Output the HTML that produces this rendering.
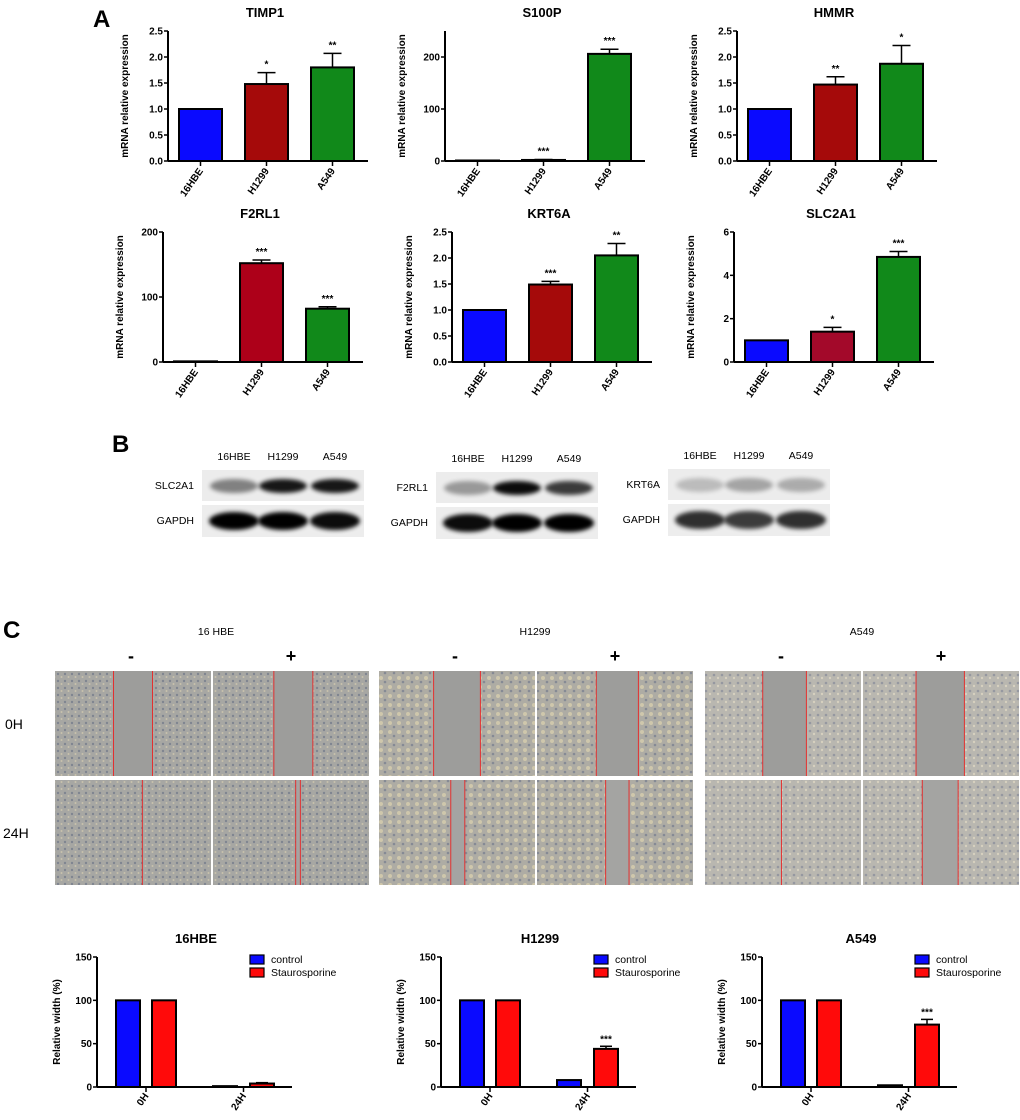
<!DOCTYPE html>
<html><head><meta charset="utf-8"><style>
body{margin:0;background:#fff;}
svg{display:block;font-family:"Liberation Sans",Arial,sans-serif;}
</style></head><body>
<svg id="fig" width="1020" height="1120" viewBox="0 0 1020 1120">
<defs>
<pattern id="cellsA" width="7" height="7" patternUnits="userSpaceOnUse"><rect width="7" height="7" fill="#a7a7a3"/><circle cx="2" cy="2" r="1.2" fill="#7f8590"/><circle cx="5.5" cy="5" r="1" fill="#c8c2ad"/></pattern>
<pattern id="cellsB" width="9" height="9" patternUnits="userSpaceOnUse"><rect width="9" height="9" fill="#aeaca4"/><circle cx="3" cy="3" r="2" fill="#cfc7ac"/><circle cx="7" cy="7" r="1.3" fill="#858a94"/></pattern>
<pattern id="cellsC" width="8" height="8" patternUnits="userSpaceOnUse"><rect width="8" height="8" fill="#b9b7b0"/><circle cx="2" cy="3" r="1.3" fill="#9598a0"/><circle cx="6" cy="6" r="1.2" fill="#d6d0bf"/></pattern>
<filter id="blur" x="-20%" y="-50%" width="140%" height="200%"><feGaussianBlur stdDeviation="2.2"/></filter>
</defs>
<g id="layer"></g>
</svg>
<script>
// ---- Panel A data ----
const catsA = ["16HBE","H1299","A549"];
const titlesA = ["TIMP1","S100P","HMMR","F2RL1","KRT6A","SLC2A1"];
const valsTIMP1 = [1, 1.48, 1.80];
const errTIMP1 = [0, 0.22, 0.27];
const starsTIMP1 = ["", "*", "**"];
const valsS100P = [1, 2, 206];
const errS100P = [0, 1, 9];
const starsS100P = ["", "***", "***"];
const valsHMMR = [1, 1.47, 1.87];
const errHMMR = [0, 0.15, 0.35];
const starsHMMR = ["", "**", "*"];
const valsF2RL1 = [1, 152, 82];
const errF2RL1 = [0, 5, 3];
const starsF2RL1 = ["", "***", "***"];
const valsKRT6A = [1, 1.49, 2.05];
const errKRT6A = [0, 0.06, 0.23];
const starsKRT6A = ["", "***", "**"];
const valsSLC2A1 = [1, 1.4, 4.85];
const errSLC2A1 = [0, 0.2, 0.25];
const starsSLC2A1 = ["", "*", "***"];
const ticksTIMP1 = ["0.0","0.5","1.0","1.5","2.0","2.5"];
const ticks200 = ["0","100","200"];
const ticksSLC = ["0","2","4","6"];
// ---- Panel C data ----
const catsC = ["0H","24H"];
const seriesC = ["control","Staurosporine"];
const titlesC = ["16HBE","H1299","A549"];
const ctrl16HBE = [100, 1];
const stau16HBE = [100, 4];
const stauErr16HBE = [0, 1];
const ctrlH1299 = [100, 8];
const stauH1299 = [100, 44];
const stauErrH1299 = [0, 3];
const ctrlA549 = [100, 2];
const stauA549 = [100, 72];
const stauErrA549 = [0, 6];
const stars24H = ["", "***", "***"];
const ticksC = ["0","50","100","150"];

const NS = "http://www.w3.org/2000/svg";
const L = document.getElementById("layer");
function mk(tag, attrs, parent){const e=document.createElementNS(NS,tag);for(const k in attrs)e.setAttribute(k,attrs[k]);(parent||L).appendChild(e);return e;}
function txt(x,y,s,size,attrs,parent){const e=mk("text",Object.assign({x:x,y:y,"font-size":size},attrs||{}),parent);e.textContent=s;return e;}

let e;
e=txt(93,27,"A",24,{"font-weight":"bold"});  
e=txt(112,452,"B",24,{"font-weight":"bold"});  
e=txt(3,638,"C",24,{"font-weight":"bold"});  

const colorsA = ["#0a0aff","#a50a0a","#11891a"];
function barChartA(name, axisX, y0, yTop, maxV, ticks, vals, errs, stars, title, cols){
  const g = mk("g",{});
  
  
  const yS = v => y0 - (v/maxV)*(y0-yTop);
  const xS = i => axisX + 11 + i*66;
  const bw = 43;
  const t=txt(axisX+97,yTop-14,title,13,{"font-weight":"bold","text-anchor":"middle"},g);
  
  
  const yt = txt(0,0,"mRNA relative expression",10,{"font-weight":"bold","text-anchor":"middle",transform:`translate(${axisX-40},${(y0+yTop)/2}) rotate(-90)`},g);
  
  
  ticks.forEach(s=>{
    const v=parseFloat(s), y=yS(v);
    mk("line",{x1:axisX-4,x2:axisX,y1:y,y2:y,stroke:"#000","stroke-width":1.5},g);
    const tl=txt(axisX-5,y+3.5,s,10,{"font-weight":"bold","text-anchor":"end"},g);
    
    
  });
  vals.forEach((v,i)=>{
    const x=xS(i), y=yS(v);
    if(errs[i]>0){
      const ye=yS(v+errs[i]);
      mk("line",{x1:x+bw/2,x2:x+bw/2,y1:y,y2:ye,stroke:"#000","stroke-width":1.5},g);
      mk("line",{x1:x+bw/2-9,x2:x+bw/2+9,y1:ye,y2:ye,stroke:"#000","stroke-width":1.5},g);
    }
    const r=mk("rect",{x:x,y:y,width:bw,height:Math.max(y0-y,0.5),fill:cols[i],stroke:"#000","stroke-width":2},g);
    
    
    if(stars[i]){const st=txt(x+bw/2,yS(v+errs[i])-5,stars[i],10,{"font-weight":"bold","text-anchor":"middle"},g);
      
      }
    mk("line",{x1:x+bw/2,x2:x+bw/2,y1:y0,y2:y0+5,stroke:"#000","stroke-width":1.5},g);
    const xl=txt(0,0,catsA[i],10,{"font-weight":"bold","text-anchor":"end",transform:`translate(${x+bw/2+3},${y0+10}) rotate(-55)`},g);
    
    
  });
  mk("line",{x1:axisX,x2:axisX,y1:yTop,y2:y0,stroke:"#000","stroke-width":2},g);
  mk("line",{x1:axisX,x2:axisX+200,y1:y0,y2:y0,stroke:"#000","stroke-width":2},g);
}
barChartA("timp1",168,161,31,2.5,ticksTIMP1,valsTIMP1,errTIMP1,starsTIMP1,titlesA[0],colorsA);
barChartA("s100p",445,161,31,250,ticks200,valsS100P,errS100P,starsS100P,titlesA[1],colorsA);
barChartA("hmmr",737,161,31,2.5,ticksTIMP1,valsHMMR,errHMMR,starsHMMR,titlesA[2],colorsA);
barChartA("f2rl1",163,362,232,200,ticks200,valsF2RL1,errF2RL1,starsF2RL1,titlesA[3],["#0a0aff","#ad0019","#11891a"]);
barChartA("krt6a",452,362,232,2.5,ticksTIMP1,valsKRT6A,errKRT6A,starsKRT6A,titlesA[4],colorsA);
barChartA("slc2a1",734,362,232,6,ticksSLC,valsSLC2A1,errSLC2A1,starsSLC2A1,titlesA[5],["#0a0aff","#a3092a","#11891a"]);

// ---- Panel B blots ----
const blotNames = ["SLC2A1","F2RL1","KRT6A"];
const blotX = [202,436,668];
const blotY = [470,472,469];
const blotTarget = [[0.45,0.9,0.9],[0.35,0.95,0.75],[0.2,0.3,0.27]];
const blotGapdh = [[1,1,0.95],[0.95,1,1],[0.8,0.75,0.8]];
blotNames.forEach((nm,b)=>{
  const g=mk("g",{});
  
  
  const x=blotX[b], y=blotY[b], w=162;
  const lanes=[x+32,x+81,x+133];
  catsA.forEach((c,i)=>{const h=txt(lanes[i],y-10,c,10.5,{"text-anchor":"middle"},g);
     });
  const l1=txt(x-8,y+19,nm,10.5,{"text-anchor":"end"},g);
   
  const l2=txt(x-8,y+54,"GAPDH",10.5,{"text-anchor":"end"},g);
   
  mk("rect",{x:x,y:y,width:w,height:31,fill:"#ececec"},g);
  mk("rect",{x:x,y:y+35,width:w,height:32,fill:"#ededed"},g);
  lanes.forEach((lx,i)=>{
    const a=blotTarget[b][i];
    mk("ellipse",{cx:lx,cy:y+16,rx:24,ry:7,fill:"#000",opacity:a,filter:"url(#blur)"},g);
    const a2=blotGapdh[b][i];
    mk("ellipse",{cx:lx,cy:y+51,rx:25,ry:9,fill:"#000",opacity:a2,filter:"url(#blur)"},g);
  });
});

// ---- Panel C microscopy ----
const cellNames=["16 HBE","H1299","A549"];
const groupX=[55,379,705];
const fills=["url(#cellsA)","url(#cellsB)","url(#cellsC)"];
const gaps=[
 [[0.375,0.625],[0.39,0.64],[0.56],[0.53,0.56]],
 [[0.35,0.65],[0.38,0.65],[0.46,0.55],[0.44,0.59]],
 [[0.37,0.65],[0.34,0.65],[0.49],[0.38,0.61]]];
const labX=[216,535,862];
cellNames.forEach((nm,gi)=>{
  const g=mk("g",{});
  
  
  const t=txt(labX[gi],635,nm,10.5,{"text-anchor":"middle"},g);
   
  const gx=groupX[gi];
  const m=txt(gx+76,662,"-",18,{"text-anchor":"middle","font-weight":"bold"},g);
   
  const p=txt(gx+236,662,"+",18,{"text-anchor":"middle","font-weight":"bold"},g);
   
  for(let r=0;r<2;r++)for(let c=0;c<2;c++){
    const px=gx+c*158, py=671+r*109, pw=156, ph=105;
    const im=mk("rect",{x:px,y:py,width:pw,height:ph,fill:fills[gi]},g);
    
    
    const gp=gaps[gi][r*2+c];
    if(gp.length==2){
      mk("rect",{x:px+gp[0]*pw,y:py,width:(gp[1]-gp[0])*pw,height:ph,fill:r==0?"#9d9d9b":"#a4a4a2"},g);
    }
    gp.forEach(f=>mk("line",{x1:px+f*pw,x2:px+f*pw,y1:py,y2:py+ph,stroke:"#e23030","stroke-width":1},g));
  }
});
e=txt(5,729,"0H",14);  
e=txt(3,838,"24H",14);  

// ---- Panel C bar charts ----
function barChartC(name, axisX, ctrl, stau, stauErr, title){
  const g=mk("g",{});
  
  
  const y0=1087, yTop=957;
  const yS=v=>y0-(v/150)*(y0-yTop);
  const offs=[[19,55],[116,153]];
  const bw=24;
  const t=txt(axisX+99,943,title,13,{"font-weight":"bold","text-anchor":"middle"},g);
   
  const yt=txt(0,0,"Relative  width (%)",10,{"font-weight":"bold","text-anchor":"middle",transform:`translate(${axisX-37},${(y0+yTop)/2}) rotate(-90)`},g);
   
  ticksC.forEach(s=>{const v=parseFloat(s),y=yS(v);
    mk("line",{x1:axisX-4,x2:axisX,y1:y,y2:y,stroke:"#000","stroke-width":1.5},g);
    const tl=txt(axisX-5,y+3.5,s,10,{"font-weight":"bold","text-anchor":"end"},g);
     });
  catsC.forEach((c,i)=>{
    const xc=axisX+offs[i][0], xs=axisX+offs[i][1];
    const r1=mk("rect",{x:xc,y:yS(ctrl[i]),width:bw,height:y0-yS(ctrl[i]),fill:"#0a0aff",stroke:"#000","stroke-width":2},g);
     
    if(stauErr[i]>0){const ye=yS(stau[i]+stauErr[i]);
      mk("line",{x1:xs+bw/2,x2:xs+bw/2,y1:yS(stau[i]),y2:ye,stroke:"#000","stroke-width":1.5},g);
      mk("line",{x1:xs+bw/2-6,x2:xs+bw/2+6,y1:ye,y2:ye,stroke:"#000","stroke-width":1.5},g);}
    const r2=mk("rect",{x:xs,y:yS(stau[i]),width:bw,height:y0-yS(stau[i]),fill:"#ff0a0a",stroke:"#000","stroke-width":2},g);
     
    const s = i==1 ? stars24H[titlesC.indexOf(title)] : "";
    if(s){const st=txt(xs+bw/2,yS(stau[i]+stauErr[i])-4,s,10,{"font-weight":"bold","text-anchor":"middle"},g);
       }
    const cx=(xc+xs+bw)/2;
    mk("line",{x1:cx,x2:cx,y1:y0,y2:y0+5,stroke:"#000","stroke-width":1.5},g);
    const xl=txt(0,0,c,10,{"font-weight":"bold","text-anchor":"end",transform:`translate(${cx+3},${y0+9}) rotate(-55)`},g);
     
  });
  mk("line",{x1:axisX,x2:axisX,y1:yTop,y2:y0,stroke:"#000","stroke-width":2},g);
  mk("line",{x1:axisX,x2:axisX+195,y1:y0,y2:y0,stroke:"#000","stroke-width":2},g);
  seriesC.forEach((s,i)=>{
    const lg=mk("g",{},g);
     
    mk("rect",{x:axisX+153,y:955+i*13,width:14,height:9,fill:i?"#ff0a0a":"#0a0aff",stroke:"#000","stroke-width":1.2},lg);
    txt(axisX+174,963+i*13,s,10.5,{},lg);
  });
}
barChartC("16hbe",97,ctrl16HBE,stau16HBE,stauErr16HBE,titlesC[0]);
barChartC("h1299",441,ctrlH1299,stauH1299,stauErrH1299,titlesC[1]);
barChartC("a549",762,ctrlA549,stauA549,stauErrA549,titlesC[2]);
</script>
</body></html>
